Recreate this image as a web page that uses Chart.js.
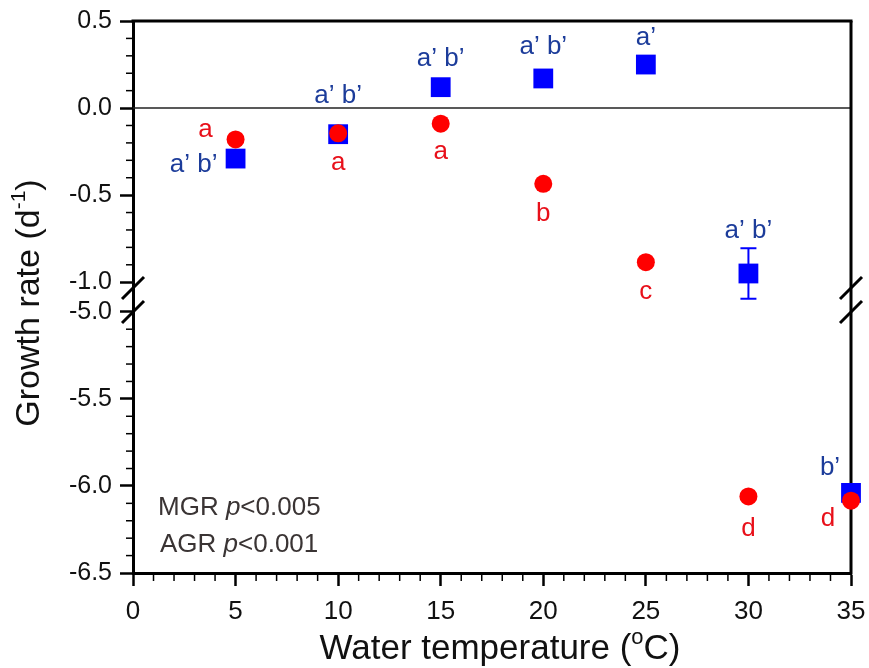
<!DOCTYPE html>
<html lang="en">
<head>
<meta charset="UTF-8">
<title>Growth rate vs water temperature</title>
<script src="https://cdn.jsdelivr.net/npm/chart.js"></script>
<style>
  html, body { margin: 0; padding: 0; background: #fff; }
  #wrap { width: 869px; height: 668px; }
</style>
</head>
<body>
<div id="wrap"><canvas id="chart" width="869" height="668"></canvas></div>
<script>
  // data
  const temps = [5, 10, 15, 20, 25, 30, 35];
  const mgrRate = [-0.29, -0.15, 0.12, 0.17, 0.25, -0.95, -6.04];   // blue squares
  const mgrErr  = [0.01, 0.01, 0.01, 0.01, 0.01, 0.145, 0.01];
  const agrRate = [-0.18, -0.145, -0.09, -0.435, -0.885, -6.06, -6.085]; // red circles
  const mgrLetters = ["a’ b’", "a’ b’", "a’ b’", "a’ b’", "a’", "a’ b’", "b’"];
  const agrLetters = ["a", "a", "a", "b", "c", "d", "d"];
  const upperRange = [-1.085, 0.5];
  const lowerRange = [-6.5, -4.915];
  const xRange = [0, 35];
  const statLines = [["MGR ", "p", "<0.005"], ["AGR ", "p", "<0.001"]];

  // label placement, pixels from the marker
  const mgrLabelOff = [[-42, 6], [0, -38], [0, -28], [0, -32], [0, -27], [0, -43], [-21, -25]];
  const agrLabelOff = [[-30, -10], [0, 30], [0, 28], [0, 30], [0, 30], [0, 32], [-23, 18]];

  const FONT = "Arial, 'Liberation Sans', sans-serif";
  const BLUE = "#0000ff", RED = "#ff0000";
  const BLUE_TXT = "#1c3c9a", RED_TXT = "#e8101a";

  function pts(vals, lower) {
    return temps.map((t, i) => ({ x: t, y: vals[i] }))
      .filter(p => lower ? p.y < upperRange[0] : p.y >= upperRange[0]);
  }
  function axisFor(chart, v) {
    return v < upperRange[0] ? chart.scales.yLow : chart.scales.yUp;
  }
  function seg(ctx, x1, y1, x2, y2) {
    ctx.beginPath(); ctx.moveTo(x1, y1); ctx.lineTo(x2, y2); ctx.stroke();
  }
  // draw runs of [text, size, rise] centred on cx
  function runs(ctx, parts, cx, cy) {
    let total = 0;
    parts.forEach(p => {
      ctx.font = p[1] + "px " + FONT;
      total += ctx.measureText(p[0]).width;
    });
    let x = cx - total / 2;
    parts.forEach(p => {
      ctx.font = p[1] + "px " + FONT;
      ctx.fillText(p[0], x, cy - p[2]);
      x += ctx.measureText(p[0]).width;
    });
  }

  const decor = {
    id: "decor",
    beforeDatasetsDraw(chart) {
      const { ctx, chartArea: a, scales } = chart;
      ctx.save();
      ctx.lineCap = "butt";
      // zero line
      const y0 = scales.yUp.getPixelForValue(0);
      ctx.strokeStyle = "#222"; ctx.lineWidth = 1.6;
      seg(ctx, a.left, y0, a.right, y0);
      // top + right frame
      ctx.strokeStyle = "#000"; ctx.lineWidth = 3;
      seg(ctx, a.left - 1.5, a.top, a.right + 1.5, a.top);
      seg(ctx, a.right, a.top, a.right, a.bottom + 1.5);
      // minor ticks
      ctx.lineWidth = 1.5;
      [scales.yUp, scales.yLow].forEach(s => {
        for (let k = Math.ceil(s.min * 10); k <= Math.floor(s.max * 10); k++) {
          if (k % 5 === 0) continue;
          const y = s.getPixelForValue(k / 10);
          seg(ctx, a.left - 7, y, a.left, y);
        }
      });
      for (let t = xRange[0]; t <= xRange[1]; t++) {
        if (t % 5 === 0) continue;
        const x = scales.x.getPixelForValue(t);
        seg(ctx, x, a.bottom, x, a.bottom + 8);
      }
      // error bars
      ctx.strokeStyle = BLUE; ctx.lineWidth = 2;
      temps.forEach((t, i) => {
        const s = axisFor(chart, mgrRate[i]);
        const x = scales.x.getPixelForValue(t);
        const yt = s.getPixelForValue(mgrRate[i] + mgrErr[i]);
        const yb = s.getPixelForValue(mgrRate[i] - mgrErr[i]);
        seg(ctx, x, yt, x, yb);
        seg(ctx, x - 8, yt, x + 8, yt);
        seg(ctx, x - 8, yb, x + 8, yb);
      });
      ctx.restore();
    },
    afterDraw(chart) {
      const { ctx, chartArea: a, scales } = chart;
      ctx.save();
      // axis breaks
      const yb = scales.yUp.bottom;
      ctx.strokeStyle = "#000"; ctx.lineWidth = 3;
      [a.left, a.right].forEach(x => {
        [yb - 9, yb + 15].forEach(yc => seg(ctx, x - 11, yc + 11, x + 11, yc - 11));
      });
      // significance letters
      ctx.textAlign = "center"; ctx.textBaseline = "middle";
      ctx.font = "26px " + FONT;
      const put = (vals, letters, offs, color) => {
        ctx.fillStyle = color;
        temps.forEach((t, i) => {
          const x = scales.x.getPixelForValue(t) + offs[i][0];
          const y = axisFor(chart, vals[i]).getPixelForValue(vals[i]) + offs[i][1];
          ctx.fillText(letters[i], x, y);
        });
      };
      put(mgrRate, mgrLetters, mgrLabelOff, BLUE_TXT);
      put(agrRate, agrLetters, agrLabelOff, RED_TXT);
      // stats text
      ctx.fillStyle = "#3a3434"; ctx.textAlign = "left";
      [[158, 508], [160, 545]].forEach((pos, j) => {
        let x = pos[0];
        statLines[j].forEach((part, k) => {
          ctx.font = (k === 1 ? "italic " : "") + "26px " + FONT;
          ctx.fillText(part, x, pos[1]);
          x += ctx.measureText(part).width;
        });
      });
      // axis titles
      ctx.fillStyle = "#111"; ctx.textBaseline = "middle";
      runs(ctx, [["Water temperature (", 35, 0], ["o", 22, 11], ["C)", 35, 0]], 500, 649);
      ctx.translate(30, 303);
      ctx.rotate(-Math.PI / 2);
      runs(ctx, [["Growth rate (d", 34, 0], ["-1", 21, 11], [")", 34, 0]], 0, 0);
      ctx.restore();
    }
  };

  const yTicks = {
    stepSize: 0.5, includeBounds: false, autoSkip: false,
    callback: v => v.toFixed(1),
    font: { size: 25, family: FONT }, color: "#111", padding: 8
  };
  const tickGrid = { drawOnChartArea: false, drawTicks: true, tickLength: 13, tickWidth: 2.5, tickColor: "#000" };
  const axisBorder = { display: true, width: 3, color: "#000" };

  new Chart(document.getElementById("chart"), {
    type: "scatter",
    data: {
      datasets: [
        { label: "AGR", data: pts(agrRate, false), yAxisID: "yUp" },
        { label: "AGR", data: pts(agrRate, true), yAxisID: "yLow" },
        { label: "MGR", data: pts(mgrRate, false), yAxisID: "yUp", blue: true },
        { label: "MGR", data: pts(mgrRate, true), yAxisID: "yLow", blue: true }
      ].map(d => Object.assign(d, {
        pointStyle: d.blue ? "rect" : "circle",
        pointRadius: d.blue ? 14 : 9,
        backgroundColor: d.blue ? BLUE : RED,
        borderColor: d.blue ? BLUE : RED,
        borderWidth: 0,
        order: d.blue ? 1 : 0,
        clip: false
      }))
    },
    options: {
      responsive: false,
      animation: false,
      layout: { padding: { top: 21, right: 18, left: 0, bottom: 0 } },
      plugins: { legend: { display: false }, tooltip: { enabled: false } },
      scales: {
        x: {
          type: "linear", position: "bottom", min: xRange[0], max: xRange[1],
          ticks: { stepSize: 5, maxRotation: 0, font: { size: 26, family: FONT }, color: "#111", padding: 10 },
          grid: tickGrid, border: axisBorder,
          afterFit: s => { s.height = 95; s.paddingLeft = 0; s.paddingRight = 0; }
        },
        yLow: {
          type: "linear", position: "left", stack: "y", stackWeight: 1,
          min: lowerRange[0], max: lowerRange[1],
          ticks: yTicks, grid: tickGrid, border: axisBorder,
          afterFit: s => { s.width = 133; s.paddingTop = 0; s.paddingBottom = 0; }
        },
        yUp: {
          type: "linear", position: "left", stack: "y", stackWeight: 1,
          min: upperRange[0], max: upperRange[1],
          ticks: yTicks, grid: tickGrid, border: axisBorder,
          afterFit: s => { s.width = 133; s.paddingTop = 0; s.paddingBottom = 0; }
        }
      }
    },
    plugins: [decor]
  });
</script>
</body>
</html>
